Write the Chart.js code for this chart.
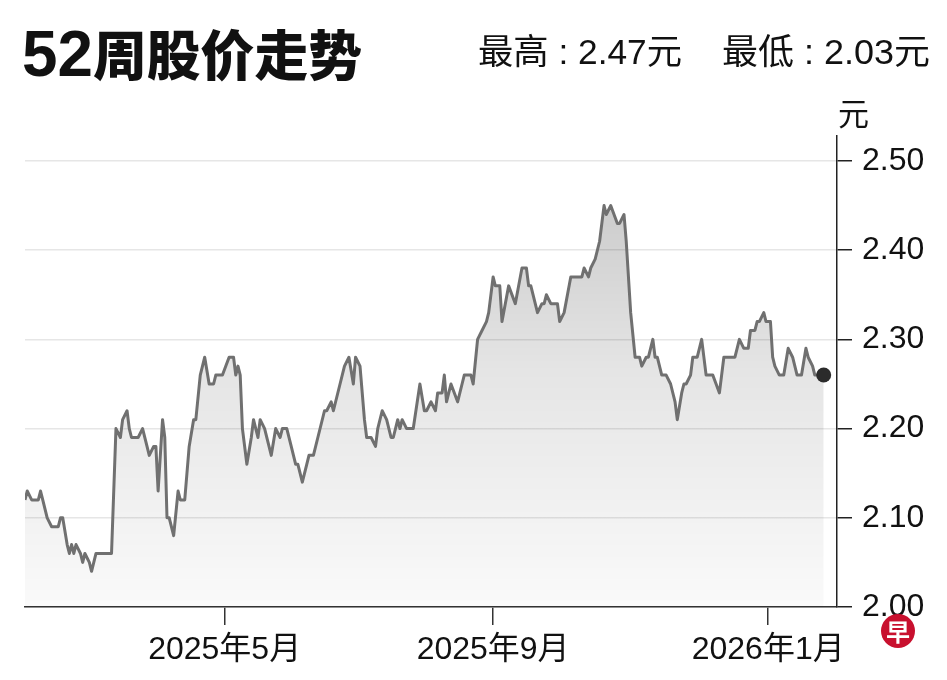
<!DOCTYPE html>
<html lang="zh-CN">
<head>
<meta charset="UTF-8">
<title>52周股价走势</title>
<script src="https://cdn.jsdelivr.net/npm/chart.js"></script>
<style>
    body { margin: 0; background: #fff; }
    #wrap { position: relative; width: 947px; height: 680px; overflow: hidden; }
    #chart { position: absolute; left: 0; top: 0; }
    .t {
        position: absolute;
        white-space: nowrap;
        color: #111;
        line-height: 1;
        font-family: "Liberation Sans", "Noto Sans CJK SC", sans-serif;
        transform-origin: left top;
    }
    #title { left: 22px; top: 22px; font-size: 54px; font-weight: 900; font-family: "Noto Sans CJK SC", sans-serif; }
    #title .num { font-family: "Liberation Sans", sans-serif; font-weight: 700; font-size: 64px; }
    #hi { left: 478px; top: 34px; font-size: 35px; }
    #lo { left: 722px; top: 34px; font-size: 35px; }
    #unit { left: 838px; top: 96px; font-size: 31px; font-family: "Noto Sans CJK SC", sans-serif; }
    #logo {
        position: absolute; left: 881px; top: 614px; width: 34px; height: 34px;
        border-radius: 50%; background: #c8102e; color: #fff;
        font: 700 24px/34px "Noto Sans CJK SC", sans-serif; text-align: center;
    }
</style>
</head>
<body>
<div id="wrap">
    <canvas id="chart" width="947" height="680"></canvas>
    <div class="t" id="title" data-w="340"><span class="num">52</span>周股价走势</div>
    <div class="t" id="hi" data-w="204">最高 : 2.47元</div>
    <div class="t" id="lo" data-w="208">最低 : 2.03元</div>
    <div class="t" id="unit">元</div>
    <div id="logo">早</div>
</div>

<script>
    // 日数以 2025-01-31 为第 0 天
    const days = [0, 1, 3, 6, 7, 8, 10, 12, 15, 16, 17, 19, 20, 21, 22, 23, 25, 26, 27, 29, 30, 32, 39,
        41, 43, 44, 46, 47, 48, 51, 53, 55, 56, 58, 59, 60, 62, 63, 64, 65, 67, 69, 70, 72, 74, 76, 77, 79,
        81, 83, 85, 86, 89, 92, 94, 95, 96, 97, 98, 100, 102, 103, 105, 106, 108, 111, 113, 115, 116, 118,
        120, 122, 123, 125, 127, 128, 130, 132, 135, 136, 138, 139, 142, 144, 146, 148, 149, 151, 153, 154,
        156, 158, 159, 161, 163, 165, 166, 168, 169, 170, 172, 175, 178, 180, 181, 183, 185, 186, 188, 189,
        190, 192, 195, 197, 198, 201, 202, 204, 206, 208, 209, 211, 212, 214, 215, 218, 221, 224, 226, 227,
        228, 231, 233, 234, 235, 237, 240, 241, 243, 246, 251, 252, 254, 255, 257, 259, 261, 262, 264, 267,
        268, 270, 271, 273, 275, 277, 278, 280, 281, 283, 284, 285, 287, 289, 291, 293, 294, 296, 297, 298,
        300, 301, 303, 305, 307, 310, 313, 315, 320, 322, 324, 326, 327, 329, 330, 331, 333, 334, 336, 337,
        338, 340, 342, 344, 346, 348, 350, 352, 353, 355, 356, 360];
    const prices = [2.12, 2.13, 2.12, 2.12, 2.13, 2.12, 2.10, 2.09, 2.09, 2.10, 2.10, 2.07, 2.06, 2.07, 2.06, 2.07, 2.06, 2.05, 2.06, 2.05, 2.04, 2.06, 2.06,
        2.20, 2.19, 2.21, 2.22, 2.20, 2.19, 2.19, 2.20, 2.18, 2.17, 2.18, 2.18, 2.13, 2.21, 2.19, 2.10, 2.10, 2.08, 2.13, 2.12, 2.12, 2.18, 2.21, 2.21, 2.26,
        2.28, 2.25, 2.25, 2.26, 2.26, 2.28, 2.28, 2.26, 2.27, 2.26, 2.20, 2.16, 2.19, 2.21, 2.19, 2.21, 2.20, 2.17, 2.20, 2.19, 2.20, 2.20,
        2.18, 2.16, 2.16, 2.14, 2.16, 2.17, 2.17, 2.19, 2.22, 2.22, 2.23, 2.22, 2.25, 2.27, 2.28, 2.25, 2.28, 2.27, 2.21, 2.19,
        2.19, 2.18, 2.20, 2.22, 2.21, 2.19, 2.19, 2.21, 2.20, 2.21, 2.20, 2.20, 2.25, 2.22, 2.22, 2.23, 2.22, 2.24, 2.24, 2.26,
        2.23, 2.25, 2.23, 2.25, 2.26, 2.26, 2.25, 2.30, 2.31, 2.32, 2.33, 2.37, 2.36, 2.36, 2.32, 2.36, 2.34, 2.38, 2.38, 2.36,
        2.36, 2.33, 2.34, 2.34, 2.35, 2.34, 2.34, 2.32, 2.33, 2.37, 2.37, 2.38, 2.37, 2.38, 2.39, 2.41, 2.45, 2.44, 2.45, 2.43,
        2.43, 2.44, 2.41, 2.33, 2.28, 2.28, 2.27, 2.28, 2.28, 2.30, 2.28, 2.28, 2.26, 2.26, 2.25, 2.23, 2.21, 2.24, 2.25, 2.25,
        2.26, 2.28, 2.28, 2.30, 2.26, 2.26, 2.24, 2.28, 2.28, 2.30, 2.29, 2.29, 2.31, 2.31, 2.32, 2.32, 2.33, 2.32, 2.32, 2.28,
        2.27, 2.26, 2.26, 2.29, 2.28, 2.26, 2.26, 2.29, 2.28, 2.27, 2.26, 2.26];

    const xTickDays = [90, 211, 335];
    const xTickLabels = ['2025年5月', '2025年9月', '2026年1月'];
    const yTicks = [2.00, 2.10, 2.20, 2.30, 2.40, 2.50];

    // 标题文字按参考图宽度横向拉伸
    document.querySelectorAll('[data-w]').forEach(el => {
        const w = el.getBoundingClientRect().width;
        el.style.transform = `scaleX(${el.dataset.w / w})`;
    });

    const points = days.map((d, i) => ({ x: d, y: prices[i] }));
    const last = points.length - 1;
    const tickFont = { family: '"Liberation Sans", "Noto Sans CJK SC", sans-serif', size: 32 };

    new Chart(document.getElementById('chart'), {
        type: 'line',
        data: {
            datasets: [{
                data: points,
                borderColor: '#707070',
                borderWidth: 3,
                borderJoinStyle: 'round',
                tension: 0,
                fill: 'start',
                backgroundColor: (ctx) => {
                    const a = ctx.chart.chartArea;
                    if (!a) return 'rgba(0,0,0,0)';
                    const g = ctx.chart.ctx.createLinearGradient(0, a.top, 0, a.bottom);
                    g.addColorStop(0, 'rgba(0,0,0,0.24)');
                    g.addColorStop(0.5, 'rgba(0,0,0,0.1)');
                    g.addColorStop(1, 'rgba(0,0,0,0.02)');
                    return g;
                },
                pointRadius: (ctx) => ctx.dataIndex === last ? 7.5 : 0,
                pointBackgroundColor: '#2b2b2b',
                pointBorderWidth: 0
            }]
        },
        options: {
            responsive: false,
            animation: false,
            layout: { padding: { left: 25, top: 136, right: 0, bottom: 0 } },
            plugins: { legend: { display: false }, tooltip: { enabled: false } },
            scales: {
                x: {
                    type: 'linear',
                    min: 0,
                    max: 366,
                    afterBuildTicks: (s) => { s.ticks = xTickDays.map(v => ({ value: v })); },
                    afterFit: (s) => { s.height = 73; },
                    ticks: {
                        callback: (v) => xTickLabels[xTickDays.indexOf(v)],
                        font: tickFont,
                        color: '#111',
                        padding: 6,
                        maxRotation: 0,
                        autoSkip: false
                    },
                    grid: { drawOnChartArea: false, drawTicks: true, tickLength: 18, tickColor: '#333', lineWidth: 1.5 },
                    border: { display: true, color: '#333', width: 1.5 }
                },
                y: {
                    position: 'right',
                    min: 2.0,
                    max: 2.528,
                    afterBuildTicks: (s) => { s.ticks = yTicks.map(v => ({ value: v })); },
                    afterFit: (s) => { s.width = 110; },
                    ticks: {
                        callback: (v) => v.toFixed(2),
                        font: tickFont,
                        color: '#111',
                        padding: 10
                    },
                    grid: { color: '#e6e6e6', lineWidth: 1.5, drawTicks: true, tickLength: 15, tickColor: '#222' },
                    border: { display: true, color: '#222', width: 1.5 }
                }
            }
        }
    });
</script>
</body>
</html>
